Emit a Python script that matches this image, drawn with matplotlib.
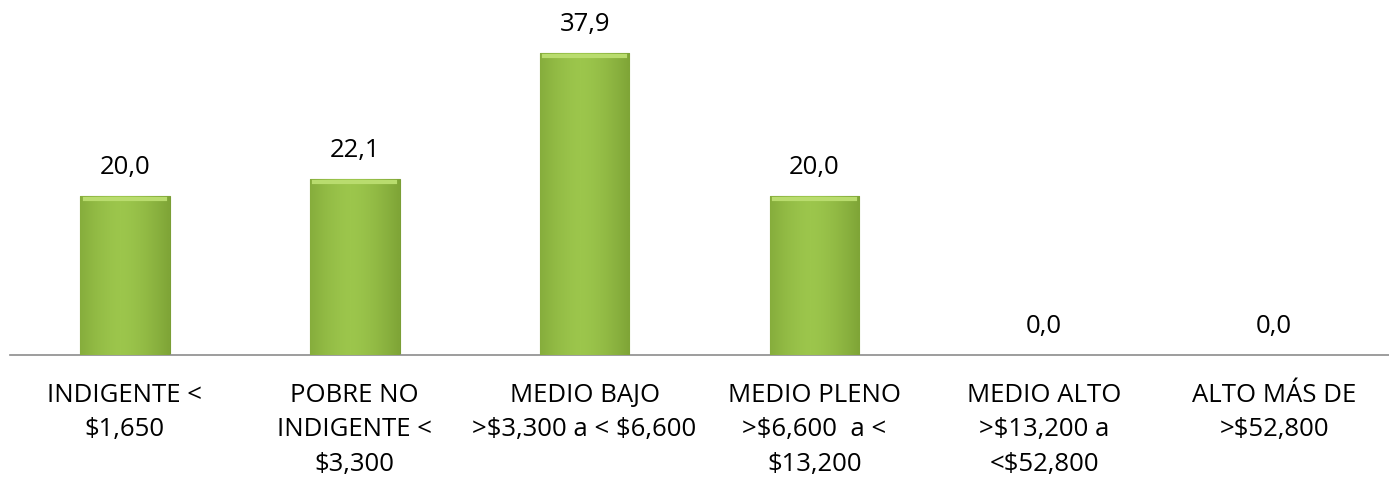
import numpy as np
import matplotlib.pyplot as plt
from matplotlib.colors import LinearSegmentedColormap

# Datos
categorias = [
    "INDIGENTE <\n$1,650",
    "POBRE NO\nINDIGENTE <\n$3,300",
    "MEDIO BAJO\n>$3,300 a < $6,600",
    "MEDIO PLENO\n>$6,600  a <\n$13,200",
    "MEDIO ALTO\n>$13,200 a\n<$52,800",
    "ALTO MÁS DE\n>$52,800",
]
valores = [20.0, 22.1, 37.9, 20.0, 0.0, 0.0]
etiquetas = ["20,0", "22,1", "37,9", "20,0", "0,0", "0,0"]

plt.rcParams['font.family'] = ['Open Sans', 'DejaVu Sans']
plt.rcParams['text.parse_math'] = False

fig = plt.figure(figsize=(13.89, 4.79), dpi=100)
ax = fig.add_axes([10 / 1389, 1 - 355 / 479, 1379 / 1389, 355 / 479])

x = np.arange(len(valores))
bars = ax.bar(x, valores, width=0.39, color="#93bd45", edgecolor="#7a9e36", linewidth=0.8, zorder=2)

# degradado suave dentro de cada barra
grad = np.linspace(0, 1, 60).reshape(1, -1)
grad = np.abs(grad - 0.45) ** 1.5
cmap = LinearSegmentedColormap.from_list("g", ["#9cc64c", "#7fa537"])
for b in bars:
    if b.get_height() <= 0:
        continue
    x0, w, h = b.get_x(), b.get_width(), b.get_height()
    im = ax.imshow(grad, extent=[x0, x0 + w, 0, h], aspect="auto", cmap=cmap, zorder=3)
    im.set_clip_path(b)
    ax.plot([x0 + w * 0.05, x0 + w * 0.95], [h - 0.35, h - 0.35], color="#b9dc6e", lw=3, zorder=4)

for xi, v, t in zip(x, valores, etiquetas):
    ax.text(xi, v + 2.75, t, ha="center", va="baseline", fontsize=18.5, color="black")

ax.set_xlim(-0.5, len(valores) - 0.5)
ax.set_ylim(0, 44.6)
ax.set_xticks(x)
ax.set_xticklabels(categorias, fontsize=18.5, linespacing=1.5)
ax.tick_params(axis="x", length=0, pad=20)
ax.set_yticks([])
for s in ["top", "right", "left"]:
    ax.spines[s].set_visible(False)
ax.spines["bottom"].set_color("#8c8c8c")
ax.spines["bottom"].set_linewidth(1.2)

fig.savefig("out.png", dpi=100)
